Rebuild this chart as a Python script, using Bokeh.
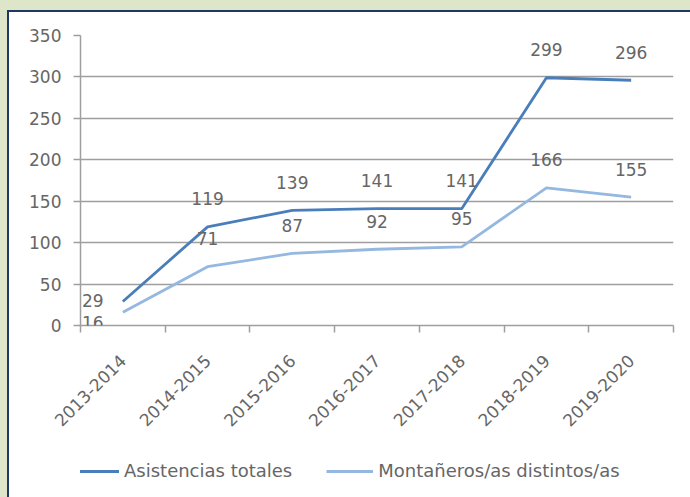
from bokeh.plotting import figure
from bokeh.layouts import column
from bokeh.models import (ColumnDataSource, FixedTicker, Range1d, Legend, LegendItem,
                          LabelSet, GlobalInlineStyleSheet)
from bokeh.core.properties import value
from bokeh.embed import file_html
from bokeh.resources import INLINE

# ---- data ----
seasons = ["2013-2014", "2014-2015", "2015-2016", "2016-2017",
           "2017-2018", "2018-2019", "2019-2020"]
asistencias = [29, 119, 139, 141, 141, 299, 296]
montaneros = [16, 71, 87, 92, 95, 166, 155]
y_ticks = [0, 50, 100, 150, 200, 250, 300, 350]
series_names = ["Asistencias totales", "Montañeros/as distintos/as"]

# ---- styles ----
DARK = "#4a7ebb"
LIGHT = "#95b8e0"
GRID = "#9e9e9e"
TXT = "#666666"
FONT = "DejaVu Sans"
FS = "17px"
W = 681

xs = [i + 0.5 for i in range(len(seasons))]

p = figure(width=W, height=425, output_backend="svg", toolbar_location=None,
           x_range=Range1d(0, len(seasons)), y_range=Range1d(0, 350),
           min_border_left=71, min_border_right=17, min_border_top=23,
           min_border_bottom=112)
p.outline_line_color = None
p.background_fill_color = "white"
p.border_fill_color = "white"

# grid
p.xgrid.grid_line_color = None
p.ygrid.ticker = FixedTicker(ticks=y_ticks)
p.ygrid.grid_line_color = GRID
p.ygrid.grid_line_width = 1.5

# y axis
p.yaxis.ticker = FixedTicker(ticks=y_ticks)
p.yaxis.axis_line_color = GRID
p.yaxis.axis_line_width = 1.5
p.yaxis.major_tick_line_color = GRID
p.yaxis.major_tick_line_width = 1.5
p.yaxis.major_tick_out = 7
p.yaxis.major_tick_in = 0
p.yaxis.minor_tick_line_color = None
p.yaxis.major_label_text_font = FONT
p.yaxis.major_label_text_font_size = FS
p.yaxis.major_label_text_color = TXT
p.yaxis.major_label_standoff = 12

# x axis
p.xaxis.ticker = FixedTicker(ticks=xs, minor_ticks=list(range(len(seasons) + 1)))
p.xaxis.major_label_overrides = {x: s for x, s in zip(xs, seasons)}
p.xaxis.major_label_orientation = 0.785398
p.xaxis.axis_line_color = GRID
p.xaxis.axis_line_width = 1.5
p.xaxis.major_tick_line_color = None
p.xaxis.major_tick_out = 6
p.xaxis.minor_tick_line_color = GRID
p.xaxis.minor_tick_line_width = 1.5
p.xaxis.minor_tick_out = 7
p.xaxis.minor_tick_in = 0
p.xaxis.major_label_text_font = FONT
p.xaxis.major_label_text_font_size = FS
p.xaxis.major_label_text_color = TXT
p.xaxis.major_label_standoff = 25

src = ColumnDataSource(dict(
    x=xs, a=asistencias, m=montaneros,
    a_lbl=[str(v) for v in asistencias], m_lbl=[str(v) for v in montaneros],
    a_dx=[-30, 0, 0, 0, 0, 0, 0], a_dy=[1, 28, 28, 28, 28, 28, 28],
    m_dx=[-30, 0, 0, 0, 0, 0, 0], m_dy=[-10, 28, 28, 28, 28, 28, 28],
))

r1 = p.line("x", "a", source=src, line_color=DARK, line_width=2.8)
r2 = p.line("x", "m", source=src, line_color=LIGHT, line_width=2.8)

for ycol, lcol, dx, dy in (("a", "a_lbl", "a_dx", "a_dy"), ("m", "m_lbl", "m_dx", "m_dy")):
    ls = LabelSet(x="x", y=ycol, text=lcol, source=src, x_offset=dict(field=dx),
                  y_offset=dict(field=dy), text_align="center", text_baseline="middle",
                  text_font=value(FONT), text_font_size=value(FS), text_color=TXT)
    p.add_layout(ls)

# ---- legend strip (separate figure, same series styles) ----
lg = figure(width=W, height=60, output_backend="svg", toolbar_location=None,
            x_axis_type=None, y_axis_type=None,
            x_range=Range1d(100, 101), y_range=Range1d(0, 350),
            min_border=0)
lg.outline_line_color = None
lg.grid.grid_line_color = None
lg.border_fill_color = "white"
l1 = lg.line("x", "a", source=src, line_color=DARK, line_width=2.8)
l2 = lg.line("x", "m", source=src, line_color=LIGHT, line_width=2.8)
legend = Legend(items=[LegendItem(label=series_names[0], renderers=[l1]),
                       LegendItem(label=series_names[1], renderers=[l2])],
                orientation="horizontal", location=(-8, 16),
                glyph_width=47, label_standoff=5, spacing=34,
                border_line_color=None, background_fill_alpha=0,
                label_text_font=FONT, label_text_font_size="18px",
                label_text_color=TXT, margin=0, padding=5)
lg.add_layout(legend, "center")

page = column(p, lg, spacing=0)
page.stylesheets = [GlobalInlineStyleSheet(css="html,body{background:#dde6c9;}")]
page.styles = {"border-left": "2px solid #1f3864", "border-top": "2px solid #1f3864",
               "margin-left": "7px", "margin-top": "10px", "background": "white"}

open("out.html", "w").write(file_html(page, INLINE))
